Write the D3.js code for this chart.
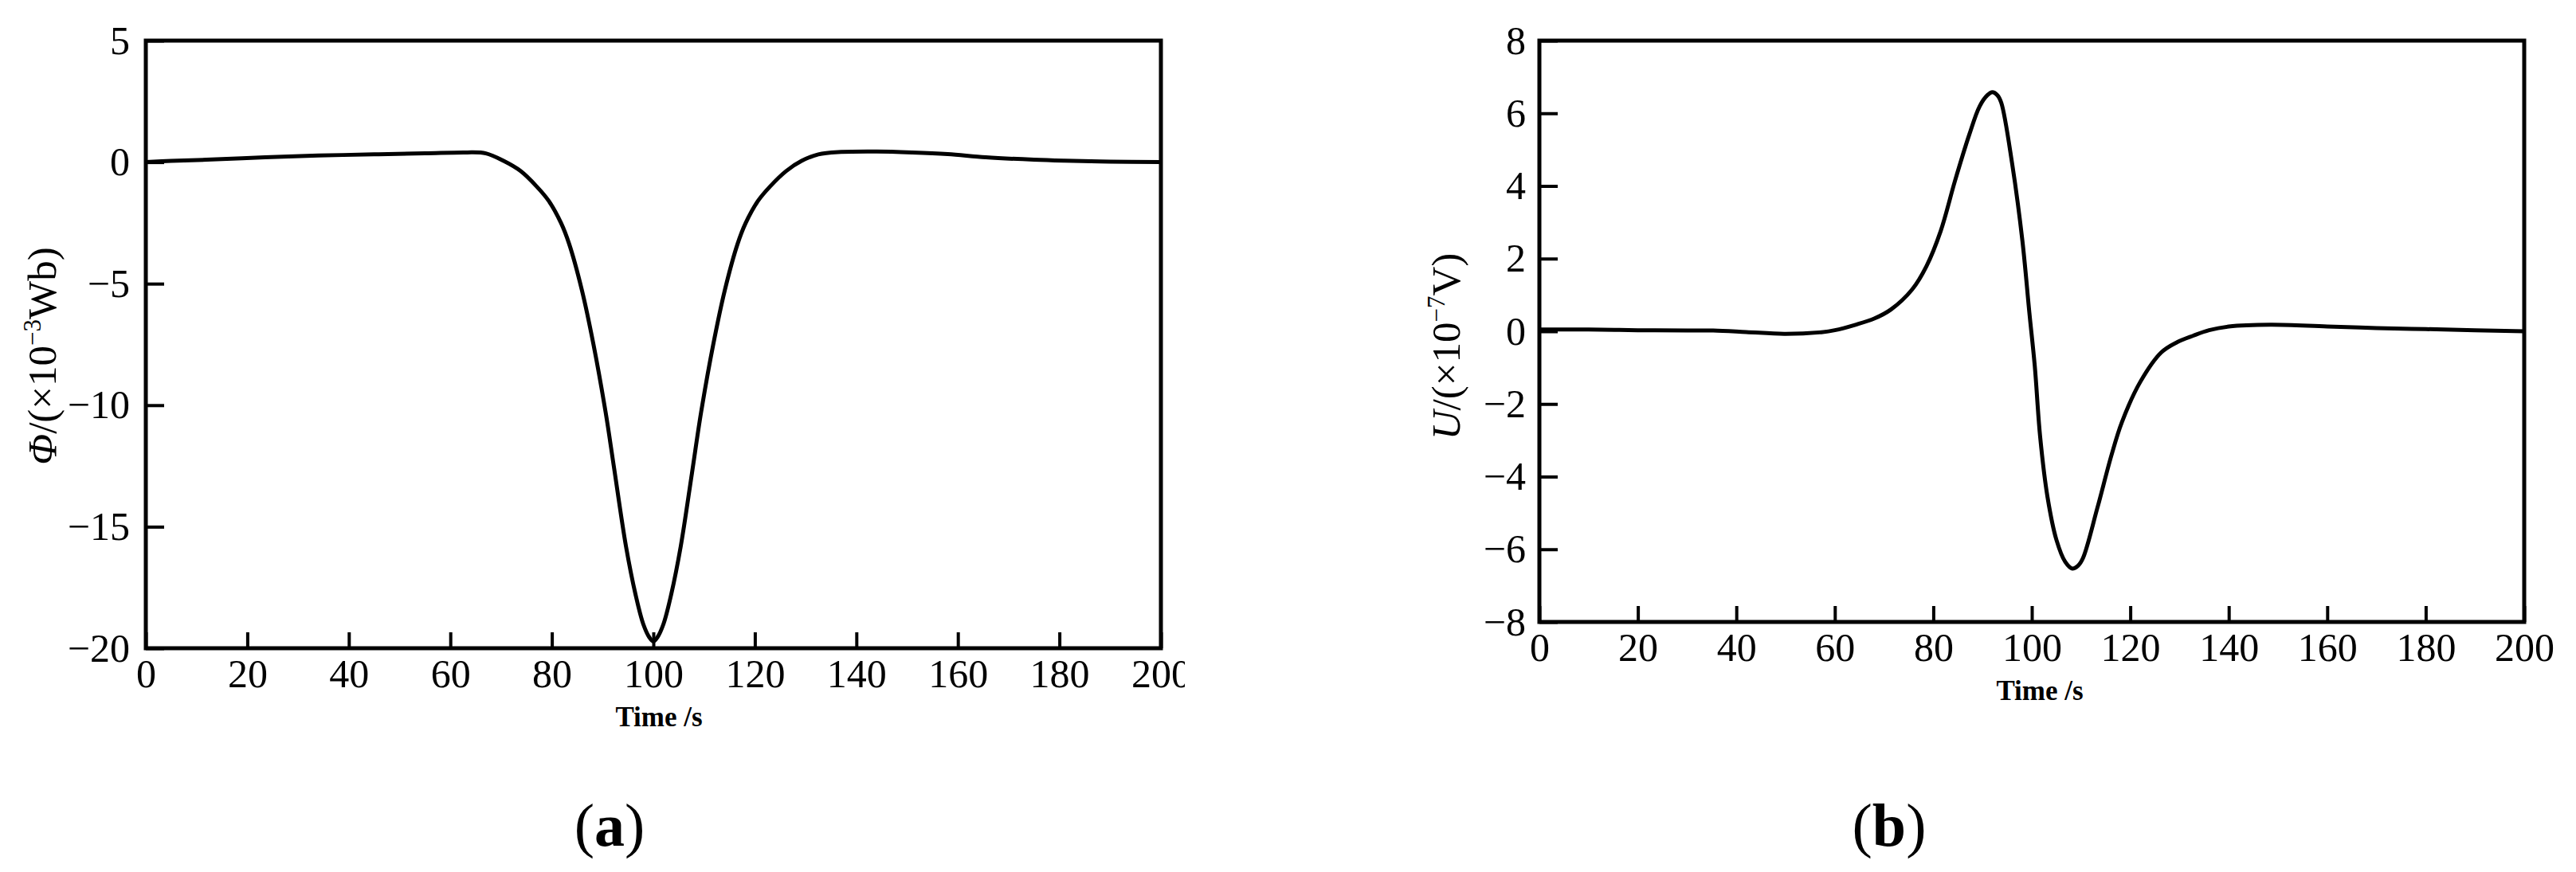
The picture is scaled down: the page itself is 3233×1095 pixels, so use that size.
<!DOCTYPE html>
<html>
<head>
<meta charset="utf-8">
<script src="https://cdn.jsdelivr.net/npm/d3@7"></script>
<style>
  body { margin: 0; background: #fff; }
  svg { display: block; }
</style>
</head>
<body>
<div id="chart"></div>
<script>
// Panel (a): magnetic flux
var timeA = [0, 5, 12, 23.5, 34, 45, 55, 63, 67, 70.5, 73.8, 77, 79.4, 81.8, 83.4, 85.9, 88.2, 90.6, 92.2,
             94.6, 96.5, 98, 99.2, 100, 100.8, 102, 103.5, 105.4, 107.6, 109.4, 111.8, 114.1, 116.6, 118.2, 120.6,
             123, 126.2, 129.2, 132.5, 137, 144, 151, 158, 165.5, 175, 181, 190, 200];
var fluxA = [0, 0.05, 0.1, 0.2, 0.27, 0.32, 0.36, 0.4, 0.36, 0.05, -0.36, -1.0, -1.6, -2.5, -3.36, -5.25, -7.5, -10.3, -12.5,
             -15.8, -17.8, -19.0, -19.55, -19.72, -19.55, -19.0, -17.8, -15.8, -12.8, -10.3, -7.5, -5.25, -3.36, -2.5, -1.6,
             -1.0, -0.36, 0.05, 0.32, 0.42, 0.44, 0.4, 0.33, 0.2, 0.1, 0.06, 0.02, 0];

// Panel (b): induced voltage
var timeB = [0, 10, 20, 30, 35.3, 42, 49.7, 56.9, 60, 64.2, 68, 71.4, 75.7, 78.6, 81.5, 84.4, 87.3, 89.4, 91, 92,
             93, 93.8, 96, 98.1, 99.5, 100.6, 101.7, 103.2, 105, 106.8, 108.2, 109.4, 110.4, 113.3, 116.2,
             118.3, 122, 126.3, 129.5, 132.8, 136, 140, 148.5, 160, 170, 180, 190, 200];
var voltB = [0.05, 0.05, 0.03, 0.02, 0.02, -0.02, -0.07, -0.03, 0.03, 0.18, 0.35, 0.6, 1.15, 1.79, 2.76, 4.14, 5.41, 6.19, 6.5, 6.58,
             6.5, 6.29, 4.62, 2.48, 0.52, -0.95, -2.91, -4.57, -5.74, -6.35, -6.53, -6.45, -6.24, -4.87, -3.4,
             -2.5, -1.4, -0.58, -0.3, -0.12, 0.03, 0.13, 0.18, 0.13, 0.09, 0.06, 0.03, 0];

var timeTicks = [0, 20, 40, 60, 80, 100, 120, 140, 160, 180, 200];
var fluxTicks = [-20, -15, -10, -5, 0, 5];
var voltTicks = [-8, -6, -4, -2, 0, 2, 4, 6, 8];

var width = 3233,
    height = 1095,
    serif = "'Liberation Serif', 'Times New Roman', Times, serif";

var svg = d3.select('#chart').append('svg')
            .attr('width', width)
            .attr('height', height);

svg.append('rect')
   .attr('width', width)
   .attr('height', height)
   .attr('fill', '#fff');

drawPanel({
  id: 'a', left: 183, right: 1457, top: 51, bottom: 814, clipRight: 1487,
  yDomain: [-20, 5], yTicks: fluxTicks, labelPad: 20,
  times: timeA, values: fluxA,
  symbol: 'Φ', unit: 'Wb)', power: '−3',
  yTitleX: 70, yTitleY: 447,
  xTitleX: 827, xTitleY: 912,
  tagX: 765, tagY: 1062
});

drawPanel({
  id: 'b', left: 1932, right: 3168, top: 51, bottom: 781, clipRight: width,
  yDomain: [-8, 8], yTicks: voltTicks, labelPad: 17,
  times: timeB, values: voltB,
  symbol: 'U', unit: 'V)', power: '−7',
  yTitleX: 1832, yTitleY: 435,
  xTitleX: 2560, xTitleY: 879,
  tagX: 2371, tagY: 1062
});

function drawPanel(p) {
  var x = d3.scaleLinear().domain([0, 200]).range([p.left, p.right]),
      y = d3.scaleLinear().domain(p.yDomain).range([p.bottom, p.top]);

  svg.append('clipPath')
     .attr('id', 'clip-' + p.id)
     .append('rect')
     .attr('x', p.left - 200)
     .attr('y', 0)
     .attr('width', p.clipRight - p.left + 200)
     .attr('height', height);

  var g = svg.append('g').attr('clip-path', 'url(#clip-' + p.id + ')');

  // inward ticks on bottom and left
  var xAxis = d3.axisBottom(x)
                .tickValues(timeTicks)
                .tickFormat(d3.format('d'))
                .tickSizeInner(-20)
                .tickSizeOuter(0)
                .tickPadding(13);

  var yAxis = d3.axisLeft(y)
                .tickValues(p.yTicks)
                .tickFormat(d3.format('d'))
                .tickSizeInner(-23)
                .tickSizeOuter(0)
                .tickPadding(p.labelPad);

  g.append('g')
   .attr('transform', `translate(0,${p.bottom})`)
   .call(xAxis)
   .call(styleAxis);

  g.append('g')
   .attr('transform', `translate(${p.left},0)`)
   .call(yAxis)
   .call(styleAxis);

  // frame
  g.append('rect')
   .attr('x', x(0))
   .attr('y', y(p.yDomain[1]))
   .attr('width', x(200) - x(0))
   .attr('height', y(p.yDomain[0]) - y(p.yDomain[1]))
   .attr('fill', 'none')
   .attr('stroke', '#000')
   .attr('stroke-width', 5);

  var line = d3.line()
               .x(function(d, i) { return x(p.times[i]); })
               .y(function(d) { return y(d); })
               .curve(d3.curveCatmullRom.alpha(0.5));

  g.append('path')
   .datum(p.values)
   .attr('d', line)
   .attr('fill', 'none')
   .attr('stroke', '#000')
   .attr('stroke-width', 5)
   .attr('stroke-linejoin', 'round');

  // rotated y title with superscript power
  var yTitle = g.append('text')
                .attr('transform', `translate(${p.yTitleX},${p.yTitleY}) rotate(-90)`)
                .attr('text-anchor', 'middle')
                .style('font-family', serif)
                .style('font-size', '51px')
                .attr('fill', '#000');
  yTitle.append('tspan').style('font-style', 'italic').text(p.symbol);
  yTitle.append('tspan').text('/(×10');
  yTitle.append('tspan').attr('dy', -19).style('font-size', '31px').text(p.power);
  yTitle.append('tspan').attr('dy', 19).text(p.unit);

  g.append('text')
   .attr('x', p.xTitleX)
   .attr('y', p.xTitleY)
   .attr('text-anchor', 'middle')
   .style('font-family', serif)
   .style('font-size', '35px')
   .style('font-weight', 'bold')
   .attr('fill', '#000')
   .text('Time /s');

  var tag = svg.append('text')
               .attr('x', p.tagX)
               .attr('y', p.tagY)
               .attr('text-anchor', 'middle')
               .style('font-family', serif)
               .style('font-size', '76px')
               .attr('fill', '#000');
  tag.append('tspan').text('(');
  tag.append('tspan').style('font-weight', 'bold').text(p.id);
  tag.append('tspan').text(')');
}

function styleAxis(sel) {
  sel.select('.domain').remove();
  sel.selectAll('.tick line')
     .attr('stroke', '#000')
     .attr('stroke-width', 4);
  sel.selectAll('.tick text')
     .attr('fill', '#000')
     .style('font-family', serif)
     .style('font-size', '50px');
}
</script>
</body>
</html>
